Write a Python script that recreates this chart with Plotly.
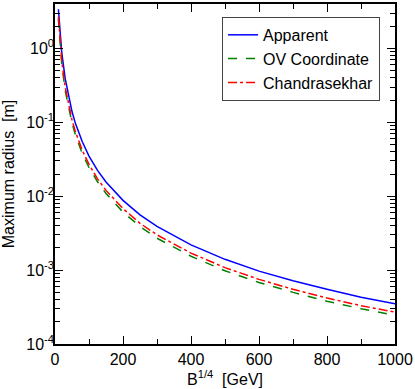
import plotly.graph_objects as go
import numpy as np

B = [10, 15, 20, 30, 40, 50, 60, 80, 100, 125, 150, 200, 250, 300, 400, 500, 600, 700, 800, 900, 1000]
apparent = [3.4, 1.55, 0.87, 0.39, 0.22, 0.14, 0.097, 0.055, 0.035, 0.0224, 0.0156, 0.0088, 0.0056, 0.0039,
            0.0022, 0.0014, 0.00097, 0.00072, 0.00055, 0.00043, 0.00035]
ov_coord = [2.5, 1.09, 0.61, 0.27, 0.153, 0.098, 0.068, 0.038, 0.0245, 0.0157, 0.0109, 0.0061, 0.0039, 0.0027,
            0.00154, 0.00098, 0.00068, 0.0005, 0.00038, 0.0003, 0.000245]
chandra = [2.7, 1.19, 0.67, 0.30, 0.169, 0.108, 0.075, 0.042, 0.027, 0.0172, 0.012, 0.0068, 0.0043, 0.003,
           0.0017, 0.00108, 0.00075, 0.00055, 0.00042, 0.00033, 0.00027]

y_tickvals = [1e-4, 1e-3, 1e-2, 1e-1, 1e0]
y_ticktext = ["10<sup>-4</sup>", "10<sup>-3</sup>", "10<sup>-2</sup>", "10<sup>-1</sup>", "10<sup>0</sup>"]
x_tickvals = [0, 200, 400, 600, 800, 1000]

minor_y = [m * 10.0 ** e for e in range(-4, 1) for m in range(2, 10)]

font = "Liberation Sans, Arial, Helvetica, sans-serif"

fig = go.Figure()
fig.add_trace(go.Scatter(x=B, y=apparent, mode="lines", name="Apparent",
                         line=dict(color="#0000ff", width=1.5)))
fig.add_trace(go.Scatter(x=B, y=ov_coord, mode="lines", name="OV Coordinate",
                         line=dict(color="#008000", width=1.5, dash="dash")))
fig.add_trace(go.Scatter(x=B, y=chandra, mode="lines", name="Chandrasekhar",
                         line=dict(color="#ff0000", width=1.5, dash="dashdot")))

fig.update_layout(
    width=415, height=389,
    margin=dict(l=55, r=19, t=2, b=45),
    paper_bgcolor="white", plot_bgcolor="white",
    font=dict(family=font, size=16, color="black"),
    showlegend=True,
    legend=dict(x=0.956, y=0.962, xanchor="right", yanchor="top",
                bordercolor="#444444", borderwidth=1, bgcolor="white",
                font=dict(size=16), tracegroupgap=0, itemwidth=30),
)
fig.update_xaxes(
    range=[0, 1000], tickmode="array", tickvals=x_tickvals,
    ticks="inside", ticklen=8, tickwidth=1, tickcolor="black",
    showline=True, linecolor="black", linewidth=1.5, mirror="ticks",
    showgrid=False, zeroline=False,
    minor=dict(tickvals=[100, 300, 500, 700, 900], ticks="inside", ticklen=5, tickcolor="black"),
    title=dict(text="B<sup>1/4</sup>  [GeV]", standoff=0, font=dict(size=16)),
    tickfont=dict(size=16),
)
fig.update_yaxes(
    type="log", range=[-4, np.log10(4.0)], tickmode="array",
    tickvals=y_tickvals, ticktext=y_ticktext,
    ticks="inside", ticklen=8, tickwidth=1, tickcolor="black",
    showline=True, linecolor="black", linewidth=1.5, mirror="ticks",
    showgrid=False, zeroline=False, ticklabelstandoff=-4,
    minor=dict(tickvals=minor_y, ticks="inside", ticklen=5, tickcolor="black"),
    title=dict(text="Maximum radius  [m]", standoff=8, font=dict(size=16)),
    tickfont=dict(size=16),
)

fig.write_html("out.html", config={"displayModeBar": False},
               post_script="document.body.style.margin='0';document.body.style.overflow='hidden';")
